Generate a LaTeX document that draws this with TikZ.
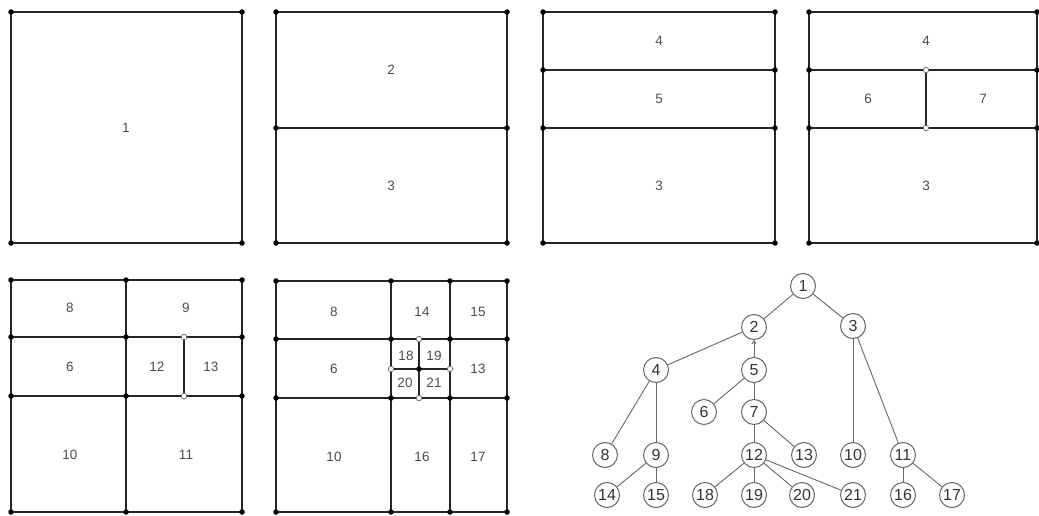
\documentclass[tikz,border=0pt]{standalone}
\usepackage{fontspec}
\setmainfont{Liberation Sans}
\usetikzlibrary{arrows.meta}
\begin{document}
\begin{tikzpicture}[x=1pt,y=-1pt,
  wall/.style={line width=2.8pt, draw=black!85, line cap=round},
  jointdot/.style={circle, fill=black, inner sep=0pt, minimum size=5.5pt},
  opendot/.style={circle, draw=black!55, fill=white, line width=0.8pt, inner sep=0pt, minimum size=5.5pt},
  cell/.style={font=\fontsize{13.5}{13.5}\selectfont, text=black!70},
  tnode/.style={circle, draw=black!60, line width=1pt, minimum size=25pt, inner sep=1.2pt, font=\fontsize{16}{16}\selectfont, text=black!80},
  tedge/.style={draw=black!60, line width=0.9pt}]
\useasboundingbox (0,0) rectangle (1039,516);

% ---------- stage 1 ----------
\draw[wall] (11,12) rectangle (242,243);
\foreach \x/\y in {11/12,242/12,11/243,242/243} \node[jointdot] at (\x,\y) {};
\node[cell] (a1) at (126,128) {1};

% ---------- stage 2 ----------
\draw[wall] (276,12) rectangle (507,243);
\draw[wall] (276,128) -- (507,128);
\foreach \x/\y in {276/12,507/12,276/128,507/128,276/243,507/243} \node[jointdot] at (\x,\y) {};
\node[cell] (b2) at (391,70) {2};
\node[cell] (b3) at (391,186) {3};

% ---------- stage 3 ----------
\draw[wall] (543,12) rectangle (775,243);
\draw[wall] (543,70) -- (775,70);
\draw[wall] (543,128) -- (775,128);
\foreach \y in {12,70,128,243} {\node[jointdot] at (543,\y) {}; \node[jointdot] at (775,\y) {};}
\node[cell] (c4) at (659,41) {4};
\node[cell] (c5) at (659,99) {5};
\node[cell] (c3) at (659,186) {3};

% ---------- stage 4 ----------
\draw[wall] (809,12) rectangle (1037,243);
\draw[wall] (809,70) -- (1037,70);
\draw[wall] (809,128) -- (1037,128);
\draw[wall] (926,70) -- (926,128);
\foreach \y in {12,70,128,243} {\node[jointdot] at (809,\y) {}; \node[jointdot] at (1037,\y) {};}
\node[opendot] at (926,70) {};
\node[opendot] at (926,128) {};
\node[cell] (d4) at (926,41) {4};
\node[cell] (d6) at (868,99) {6};
\node[cell] (d7) at (983,99) {7};
\node[cell] (d3) at (926,186) {3};

% ---------- stage 5 ----------
\draw[wall] (11,280) rectangle (242,512);
\draw[wall] (11,337) -- (242,337);
\draw[wall] (11,396) -- (242,396);
\draw[wall] (126,280) -- (126,512);
\draw[wall] (184,337) -- (184,396);
\foreach \x in {11,126,242} \foreach \y in {280,337,396,512} \node[jointdot] at (\x,\y) {};
\node[opendot] at (184,337) {};
\node[opendot] at (184,396) {};
\node[cell] (e8) at (70,308) {8};
\node[cell] (e9) at (186,308) {9};
\node[cell] (e6) at (70,367) {6};
\node[cell] (e12) at (157,367) {12};
\node[cell] (e13) at (211,367) {13};
\node[cell] (e10) at (70,455) {10};
\node[cell] (e11) at (186,455) {11};

% ---------- stage 6 ----------
\draw[wall] (276,281) rectangle (507,512);
\draw[wall] (276,339) -- (507,339);
\draw[wall] (276,398) -- (507,398);
\draw[wall] (391,281) -- (391,512);
\draw[wall] (450,281) -- (450,512);
\draw[wall] (419,339) -- (419,398);
\draw[wall] (391,369) -- (450,369);
\foreach \x in {276,391,450,507} \foreach \y in {281,339,398,512} \node[jointdot] at (\x,\y) {};
\node[jointdot] at (419,369) {};
\foreach \x/\y in {419/339,391/369,450/369,419/398} \node[opendot] at (\x,\y) {};
\node[cell] (f8) at (334,312) {8};
\node[cell] (f14) at (422,312) {14};
\node[cell] (f15) at (478,312) {15};
\node[cell] (f6) at (334,369) {6};
\node[cell] (f18) at (406,356) {18};
\node[cell] (f19) at (434,356) {19};
\node[cell] (f20) at (405,383) {20};
\node[cell] (f21) at (434,383) {21};
\node[cell] (f13) at (478,369) {13};
\node[cell] (f10) at (334,457) {10};
\node[cell] (f16) at (422,457) {16};
\node[cell] (f17) at (478,457) {17};

% ---------- subdivision tree ----------
\node[tnode] (t1) at (803,286) {1};
\node[tnode] (t2) at (754,327) {2};
\node[tnode] (t3) at (853,326) {3};
\node[tnode] (t4) at (656,370) {4};
\node[tnode] (t5) at (754,370) {5};
\node[tnode] (t6) at (704,412) {6};
\node[tnode] (t7) at (754,412) {7};
\node[tnode] (t8) at (605,455) {8};
\node[tnode] (t9) at (656,455) {9};
\node[tnode] (t12) at (754,455) {12};
\node[tnode] (t13) at (804,455) {13};
\node[tnode] (t10) at (853,455) {10};
\node[tnode] (t11) at (903,455) {11};
\node[tnode] (t14) at (607,495) {14};
\node[tnode] (t15) at (656,495) {15};
\node[tnode] (t18) at (705,495) {18};
\node[tnode] (t19) at (754,495) {19};
\node[tnode] (t20) at (802,495) {20};
\node[tnode] (t21) at (853,495) {21};
\node[tnode] (t16) at (903,495) {16};
\node[tnode] (t17) at (952,495) {17};

\draw[tedge] (t1) -- (t2);
\draw[tedge] (t1) -- (t3);
\draw[tedge] (t2) -- (t4);
\draw[tedge,-{Straight Barb[length=3pt,width=4pt]}] (t5) -- (t2);
\draw[tedge] (t4) -- (t8);
\draw[tedge] (t4) -- (t9);
\draw[tedge] (t5) -- (t6);
\draw[tedge] (t5) -- (t7);
\draw[tedge] (t7) -- (t12);
\draw[tedge] (t7) -- (t13);
\draw[tedge] (t9) -- (t14);
\draw[tedge] (t9) -- (t15);
\draw[tedge] (t12) -- (t18);
\draw[tedge] (t12) -- (t19);
\draw[tedge] (t12) -- (t20);
\draw[tedge] (t12) -- (t21);
\draw[tedge] (t3) -- (t10);
\draw[tedge] (t3) -- (t11);
\draw[tedge] (t11) -- (t16);
\draw[tedge] (t11) -- (t17);
\end{tikzpicture}
\end{document}
